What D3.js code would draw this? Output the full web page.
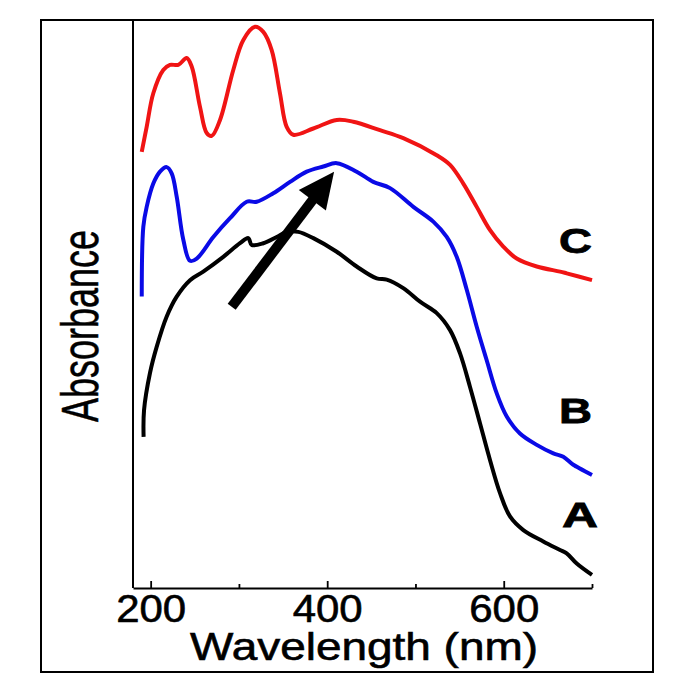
<!DOCTYPE html>
<html>
<head>
<meta charset="utf-8">
<script src="https://cdn.jsdelivr.net/npm/d3@7"></script>
<style>
  html, body { margin: 0; padding: 0; background: #fff; }
  svg { display: block; }
  text { font-family: "Liberation Sans", Arial, Helvetica, sans-serif; fill: #000; }
</style>
</head>
<body>
<script>
// ---------- DATA (wavelength in nm, absorbance in arbitrary units) ----------
const seriesNames = ["A", "B", "C"];
const seriesColors = ["#000000", "#0a0ae6", "#f01414"];

const curveA = [
  [192, 26.6], [192.5, 31.3], [199.3, 37.9], [206.9, 42.5], [218.2, 47.8], [229.5, 51.3],
  [244.6, 54.2], [259.6, 55.7], [282.3, 58.3], [301.2, 60.7], [310.6, 61.6], [314.5, 60.4],
  [327.6, 60.7], [342.8, 61.8], [354.1, 62.7], [367.3, 62.7], [384.3, 61.6], [410.8, 59.2],
  [433.4, 56.6], [456.1, 54.5], [467.4, 54.3], [486.2, 52.8], [505.2, 50.4], [524.1, 48.4],
  [539.2, 45.4], [550.5, 41.3], [561.8, 35.4], [573.1, 29.0], [584.5, 22.5], [595.8, 16.7],
  [607.1, 12.6], [622.2, 10.2], [644.8, 8.2], [663.8, 6.7], [671.3, 6.1], [682.7, 4.3], [700, 2.3]
];

const curveB = [
  [189.9, 51.3], [191.7, 63.6], [195.5, 67.1], [203.0, 71.2], [210.6, 73.3], [218.2, 74.1],
  [223.8, 73.0], [229.5, 68.9], [237.0, 61.3], [244.6, 57.6], [252.2, 58.0], [271.0, 61.8],
  [289.9, 65.1], [308.8, 68.0], [320.1, 68.0], [338.9, 69.5], [357.9, 71.5], [376.8, 73.3],
  [395.6, 74.2], [410.8, 74.8], [433.4, 73.3], [452.2, 71.5], [471.2, 70.4], [497.6, 67.1],
  [520.2, 64.5], [535.4, 61.8], [546.7, 58.3], [558.1, 52.5], [569.4, 46.0], [580.7, 40.1],
  [592.0, 34.3], [603.4, 30.2], [618.4, 27.2], [637.4, 25.2], [656.2, 23.7], [667.5, 23.1],
  [678.8, 21.7], [700, 19.9]
];

const curveC = [
  [189.9, 76.8], [195.5, 81.2], [203.0, 87.1], [214.3, 91.2], [221.9, 92.1], [231.3, 92.1],
  [240.8, 93.3], [246.5, 91.8], [255.9, 84.7], [263.5, 80.1], [269.2, 79.6], [278.6, 82.4],
  [293.6, 91.2], [305.0, 96.5], [318.2, 98.8], [327.6, 97.9], [337.1, 94.7], [346.5, 87.1],
  [354.1, 81.2], [361.6, 79.8], [384.3, 80.9], [410.8, 82.4], [429.6, 82.1], [459.8, 80.6],
  [486.2, 79.2], [524.1, 76.2], [539.2, 74.5], [554.2, 71.2], [569.4, 67.1], [584.5, 63.0],
  [599.5, 60.1], [614.7, 58.0], [637.4, 56.6], [663.8, 55.7], [671.3, 55.4], [700, 54.2]
];

const majorTicks = [200, 400, 600];
const minorTicks = [300, 500, 700];
const arrowFrom = [291.8, 49.5];
const arrowTo = [407.8, 73.3];
const xTitle = "Wavelength (nm)";
const yTitle = "Absorbance";

// ---------- DRAW ----------
const W = 685, H = 700;
const svg = d3.select("body").append("svg").attr("width", W).attr("height", H);

const x = d3.scaleLinear().domain([180, 700]).range([133, 592]);
const y = d3.scaleLinear().domain([0, 100]).range([588, 20]);

// outer frame
svg.append("rect").attr("x", 41).attr("y", 20).attr("width", 612).attr("height", 652)
  .attr("fill", "none").attr("stroke", "#000").attr("stroke-width", 2);

// curves
const line = d3.line().x(d => x(d[0])).y(d => y(d[1])).curve(d3.curveCatmullRom.alpha(0.5));
const curves = [curveA, curveB, curveC];
curves.forEach((c, i) => {
  svg.append("path").datum(c).attr("d", line)
    .attr("fill", "none").attr("stroke", seriesColors[i])
    .attr("stroke-width", 4).attr("stroke-linejoin", "round").attr("stroke-linecap", "butt");
});

// x axis (major + minor ticks)
const axMajor = svg.append("g").attr("transform", `translate(0,${y(0)})`)
  .call(d3.axisBottom(x).tickValues(majorTicks).tickSizeInner(-7).tickSizeOuter(0).tickFormat(d3.format("d")));
const axMinor = svg.append("g").attr("transform", `translate(0,${y(0)})`)
  .call(d3.axisBottom(x).tickValues(minorTicks).tickSizeInner(-4).tickSizeOuter(0).tickFormat(""));
[axMajor, axMinor].forEach(g => {
  g.select(".domain").attr("stroke", "#000").attr("stroke-width", 2);
  g.selectAll(".tick line").attr("stroke", "#000").attr("stroke-width", 1.8);
});
axMinor.select(".domain").remove();
axMajor.selectAll(".tick text")
  .attr("y", 0).attr("dy", 0)
  .attr("transform", "translate(0,34)")
  .style("font-family", "'Liberation Sans', Arial, sans-serif")
  .attr("font-size", 38).attr("fill", "#000")
  .attr("stroke", "#000").attr("stroke-width", 0.6)
  .attr("textLength", 70).attr("lengthAdjust", "spacingAndGlyphs");

// y axis line (no ticks)
svg.append("line").attr("x1", x(180)).attr("x2", x(180)).attr("y1", 20).attr("y2", y(0))
  .attr("stroke", "#000").attr("stroke-width", 2);

// axis titles
svg.append("text").attr("x", 364).attr("y", 660).attr("text-anchor", "middle")
  .attr("font-size", 38).attr("textLength", 348).attr("lengthAdjust", "spacingAndGlyphs")
  .attr("stroke", "#000").attr("stroke-width", 0.6)
  .text(xTitle);
svg.append("text").attr("transform", "translate(98,326) rotate(-90)").attr("text-anchor", "middle")
  .attr("font-size", 52).attr("textLength", 192).attr("lengthAdjust", "spacingAndGlyphs")
  .attr("stroke", "#000").attr("stroke-width", 0.5)
  .text(yTitle);

// series labels
const labelPos = [[562, 527, 36], [559, 423, 33], [559, 253, 33]];
seriesNames.forEach((n, i) => {
  svg.append("text").attr("x", labelPos[i][0]).attr("y", labelPos[i][1])
    .attr("font-size", 35).attr("font-weight", "bold")
    .attr("stroke", "#000").attr("stroke-width", 0.8)
    .attr("textLength", labelPos[i][2]).attr("lengthAdjust", "spacingAndGlyphs")
    .text(n);
});

// arrow
const p0 = [x(arrowFrom[0]), y(arrowFrom[1])];
const p1 = [x(arrowTo[0]), y(arrowTo[1])];
const dx = p1[0] - p0[0], dy = p1[1] - p0[1];
const len = Math.hypot(dx, dy);
const ux = dx / len, uy = dy / len;
const headLen = 36, headHalf = 17;
const base = [p1[0] - ux * headLen, p1[1] - uy * headLen];
svg.append("line").attr("x1", p0[0]).attr("y1", p0[1])
  .attr("x2", base[0] + ux * 2).attr("y2", base[1] + uy * 2)
  .attr("stroke", "#000").attr("stroke-width", 10);
svg.append("path")
  .attr("d", `M${p1[0]},${p1[1]} L${base[0] - uy * headHalf},${base[1] + ux * headHalf} L${base[0] + uy * headHalf},${base[1] - ux * headHalf} Z`)
  .attr("fill", "#000");
</script>
</body>
</html>
